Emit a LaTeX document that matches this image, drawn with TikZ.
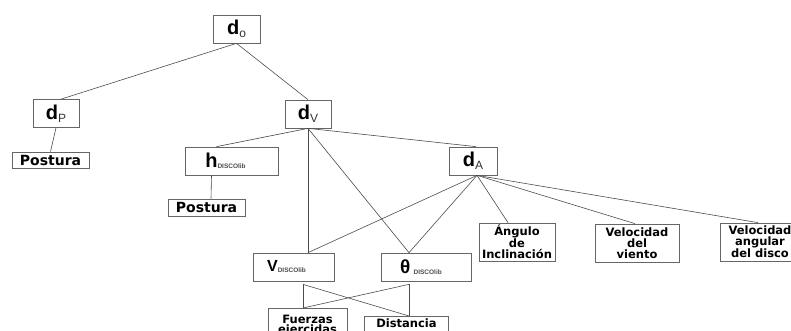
\documentclass[tikz,border=0pt]{standalone}
\usepackage{fontspec}
\setmainfont{DejaVu Sans}
\newfontfamily\arialfont{Liberation Sans}

% big letter with a small subscript
\newcommand{\dvar}[1]{{\arialfont\fontsize{20}{20}\selectfont\bfseries d}\raisebox{-3pt}{\arialfont\fontsize{12}{12}\selectfont\mdseries\color{black!80}#1}}
\newcommand{\libvar}[2]{{\arialfont\fontsize{#2}{#2}\selectfont\bfseries #1}\raisebox{-1pt}{\arialfont\fontsize{6.5}{6.5}\selectfont\bfseries\color{black!70}DISCOlib}}

\tikzset{
  box/.style={draw=black!60, line width=0.7pt, inner sep=1pt, align=center,
    font=\fontsize{11.5}{11}\selectfont\bfseries},
  varbox/.style={box, minimum height=28pt},
  link/.style={draw=black!70, line width=0.6pt},
}

\begin{document}
\begin{tikzpicture}[x=1pt,y=-1pt]
    \useasboundingbox (0,0) rectangle (791,331);
    % levels of the tree
    \node[varbox, minimum width=47pt] (do) at (236.5,29) {\dvar{o}};
    \node[varbox, minimum width=46pt] (dP) at (56,113.5) {\dvar{P}};
    \node[varbox, minimum width=46pt] (dV) at (308,114) {\dvar{V}};
    \node[box, minimum width=77pt, minimum height=16pt, font=\fontsize{14}{14}\selectfont\bfseries] (pos1) at (50.5,160) {Postura};
    \node[varbox, minimum width=93pt] (hd) at (231.5,161) {\libvar{h}{20}\hspace{12pt}};
    \node[varbox, minimum width=48pt] (dA) at (473,161) {\dvar{A}};
    \node[box, minimum width=77pt, minimum height=17pt, font=\fontsize{14}{14}\selectfont\bfseries] (pos2) at (206.5,207.5) {Postura};
    \node[box, minimum width=76pt, minimum height=38pt] (ang) at (517,242) {Ángulo\\de\\Inclinación};
    \node[box, minimum width=84pt, minimum height=38pt] (vvi) at (637,243) {Velocidad\\del\\viento};
    \node[box, minimum width=80pt, minimum height=38pt] (vang) at (760,242) {Velocidad\\angular\\del disco};
    \node[varbox, minimum width=81pt] (vd) at (293.5,267) {\libvar{V}{16}\hspace{14pt}};
    \node[varbox, minimum width=90pt] (td) at (426,267) {\libvar{θ\,}{19}\hspace{10pt}};
    \node[box, minimum width=79pt, minimum height=34pt, anchor=north, font=\fontsize{11.5}{10}\selectfont\bfseries] (fue) at (307.5,308) {Fuerzas\\ejercidas};
    \node[box, draw=none, minimum width=83pt, anchor=north, inner ysep=2pt] (dis) at (406.5,316) {Distancia};
    \draw[draw=black!60, line width=0.7pt] (dis.north west) rectangle ([yshift=-8pt]dis.south east);

    % connectors
    \draw[link] (do.south) -- ([xshift=5pt]dP.north);
    \draw[link] (do.south) -- (dV.north);
    \draw[link] (dP.south) -- (pos1.north);
    \draw[link] (dV.south) -- ([xshift=-15pt]hd.north);
    \draw[link] (dV.south) -- ([xshift=3pt]dA.north);
    \draw[link] (dV.south) -- ([xshift=14.5pt]vd.north);
    \draw[link] (dV.south) -- ([xshift=-17pt]td.north);
    \draw[link] ([xshift=-20pt]hd.south) -- ([xshift=4.5pt]pos2.north);
    \draw[link] ([xshift=4pt]dA.south) -- ([xshift=14.5pt]vd.north);
    \draw[link] ([xshift=4pt]dA.south) -- ([xshift=-17pt]td.north);
    \foreach \n/\s in {ang/-9,vvi/-2,vang/-2}
        \draw[link] ([xshift=4pt]dA.south) -- ([xshift=\s pt]\n.north);
    % crossing links at the bottom
    \draw[link] ([xshift=9.5pt,yshift=-3pt]vd.south) -- ([xshift=-4.5pt]fue.north);
    \draw[link] ([xshift=9.5pt,yshift=-3pt]vd.south) -- ([xshift=2.5pt]dis.north);
    \draw[link] ([xshift=-17pt,yshift=-3pt]td.south) -- ([xshift=2.5pt]dis.north);
    \draw[link] ([xshift=-17pt,yshift=-3pt]td.south) -- ([xshift=-4.5pt]fue.north);
\end{tikzpicture}
\end{document}
